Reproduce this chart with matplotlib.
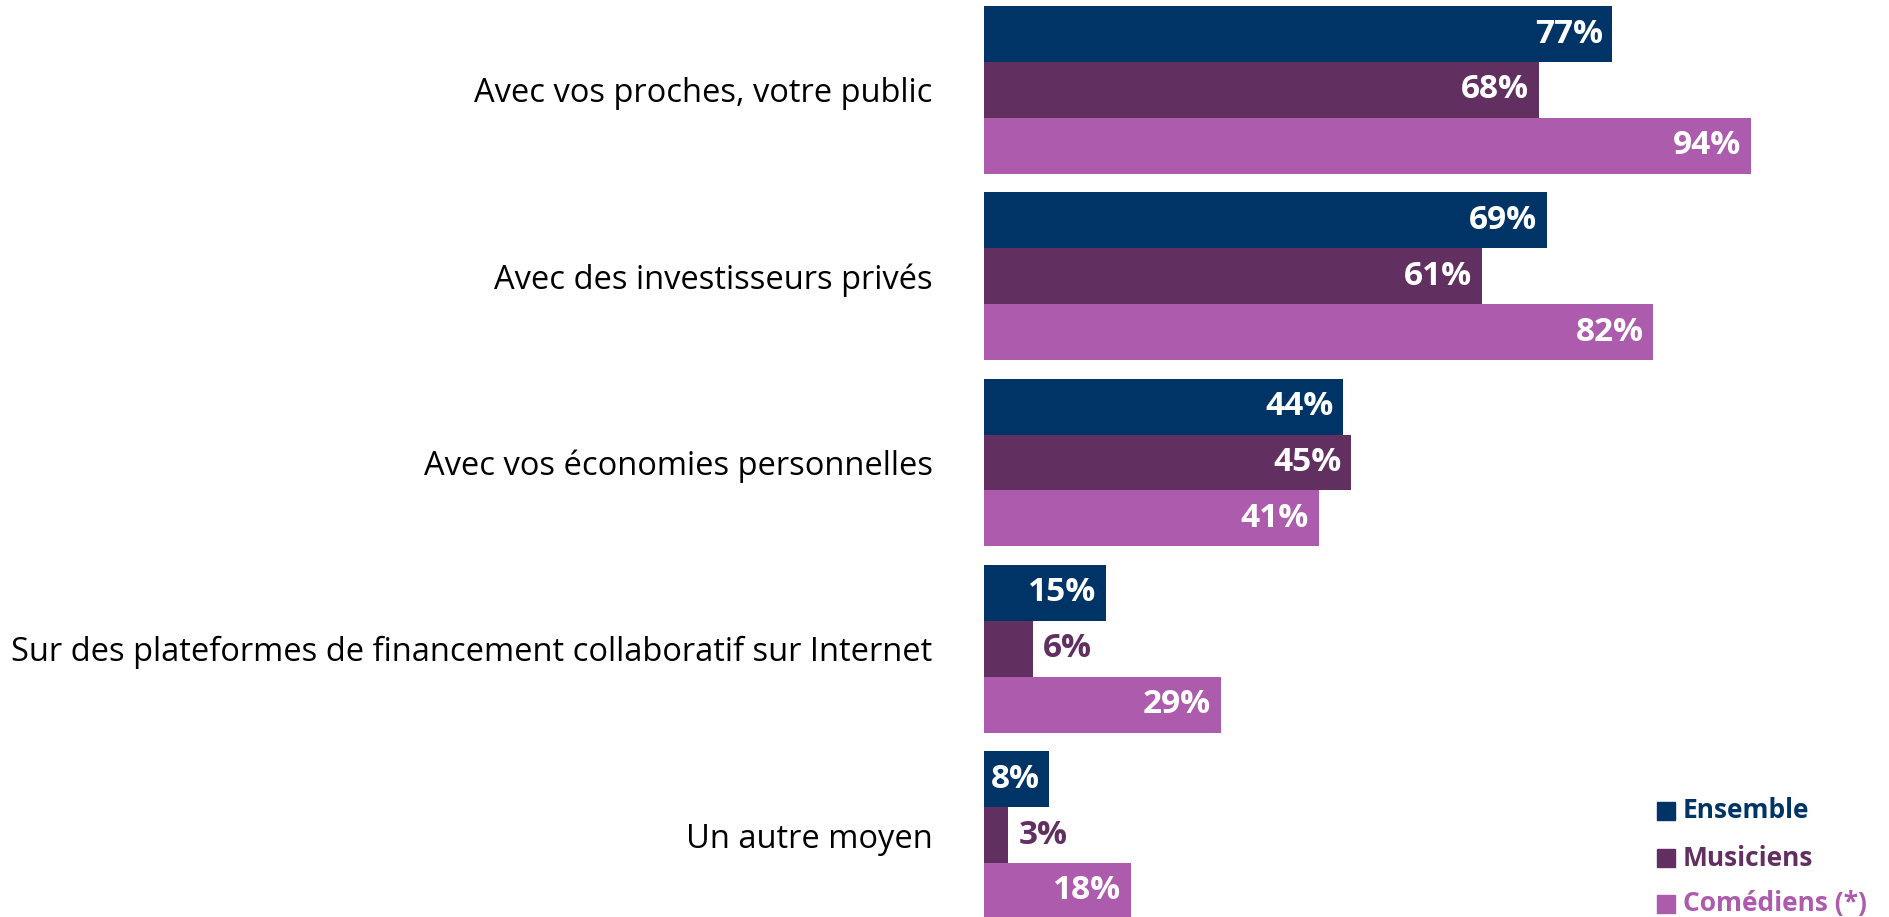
import matplotlib
matplotlib.use("Agg")
import matplotlib.pyplot as plt
from matplotlib.patches import Rectangle
import numpy as np

# data
categories = ["Avec vos proches, votre public",
              "Avec des investisseurs privés",
              "Avec vos économies personnelles",
              "Sur des plateformes de financement collaboratif sur Internet",
              "Un autre moyen"]
ensemble = [77, 69, 44, 15, 8]
musiciens = [68, 61, 45, 6, 3]
comediens = [94, 82, 41, 29, 18]

series_names = ["Ensemble", "Musiciens", "Comédiens (*)"]
colors = ["#003366", "#622F61", "#AD5BAD"]

plt.rcParams['font.family'] = ['Open Sans', 'DejaVu Sans']

W, H = 1890, 917
fig = plt.figure(figsize=(W / 100, H / 100), dpi=100)
ax = fig.add_axes([984 / W, 0, 1 - 984 / W, 1])

y = np.arange(len(categories))
h = 0.30
offsets = [-h, 0, h]

for vals, off, col in zip([ensemble, musiciens, comediens], offsets, colors):
    bars = ax.barh(y + off, vals, height=h, color=col, edgecolor="none")
    for b, v in zip(bars, vals):
        yc = b.get_y() + b.get_height() / 2
        if v >= 8:
            # white label inside the bar end
            ax.annotate(f"{v}%", (v, yc), xytext=(-7, 0), textcoords="offset points",
                        ha="right", va="center", color="white",
                        fontsize=24, fontweight="bold")
        else:
            # too short, put it after the bar
            ax.annotate(f"{v}%", (v, yc), xytext=(7, 0), textcoords="offset points",
                        ha="left", va="center", color=col,
                        fontsize=24, fontweight="bold")

ax.set_xlim(0, 111)
ax.set_ylim(4.44, -0.483)
ax.set_yticks(y, categories, fontsize=23.5)
ax.tick_params(axis="y", length=0, pad=37)
ax.set_xticks([])
for s in ax.spines.values():
    s.set_visible(False)

# legend, drawn by hand in figure pixels
leg_y = [811, 858, 904]
for name, col, ly in zip(series_names, colors, leg_y):
    fig.patches.append(Rectangle((1657 / W, 1 - (ly + 9) / H), 18 / W, 18 / H,
                                 transform=fig.transFigure, color=col))
    fig.text(1683 / W, 1 - ly / H, name, color=col, fontsize=19,
             fontweight="bold", ha="left", va="center")

fig.savefig("out.png", dpi=100)
